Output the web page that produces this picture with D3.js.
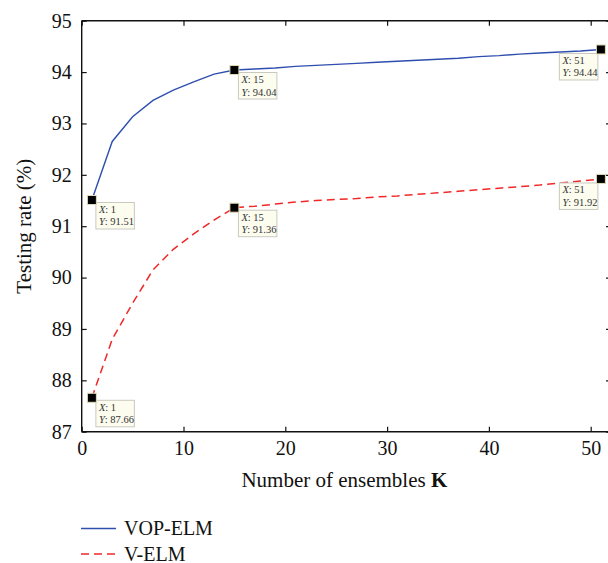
<!DOCTYPE html>
<html>
<head>
<meta charset="utf-8">
<script src="https://cdn.jsdelivr.net/npm/d3@7/dist/d3.min.js"></script>
<style>
  html, body { margin: 0; padding: 0; background: #fff; }
  svg { display: block; }
  text { font-family: "Liberation Serif", "DejaVu Serif", serif; }
</style>
</head>
<body>
<svg id="chart" width="608" height="563"></svg>
<script>
// Number of ensembles K
const ensembles = [1, 3, 5, 7, 9, 11, 13, 15, 17, 19, 21, 23, 25, 27, 29, 31, 33, 35, 37, 39, 41, 43, 45, 47, 49, 51];

// Testing rate (%) for each method
const vopElm = [91.51, 92.65, 93.13, 93.45, 93.65, 93.81, 93.96, 94.04, 94.06, 94.08, 94.11, 94.13, 94.15,
                94.17, 94.19, 94.21, 94.23, 94.25, 94.27, 94.30, 94.32, 94.35, 94.37, 94.39, 94.41, 94.44];
const vElm   = [87.66, 88.80, 89.50, 90.15, 90.55, 90.85, 91.12, 91.36, 91.39, 91.43, 91.47, 91.50, 91.52,
                91.54, 91.57, 91.59, 91.62, 91.65, 91.68, 91.71, 91.74, 91.77, 91.80, 91.84, 91.88, 91.92];

const seriesNames = ["VOP-ELM", "V-ELM"];

// Highlighted data tips
const tipSeries = [0, 0, 0, 1, 1, 1];
const tipK      = [1, 15, 51, 1, 15, 51];
const tipValue  = [91.51, 94.04, 94.44, 87.66, 91.36, 91.92];

const xTicks = [0, 10, 20, 30, 40, 50];
const yTicks = [87, 88, 89, 90, 91, 92, 93, 94, 95];

const svg = d3.select("#chart");
const mLeft = 81.7, mTop = 20.7, mBottom = 431.7;

const x = d3.scaleLinear().domain([0, 52]).range([mLeft, mLeft + 52 * 10.18]);
const y = d3.scaleLinear().domain([87, 95]).range([mBottom, mTop]);
const mRight = x(52);

const colors = ["#2f4fae", "#f02828"];

// Frame with inward ticks on all four sides
const axisColor = "#111";
const gBottom = svg.append("g").attr("transform", `translate(0,${mBottom})`)
  .call(d3.axisBottom(x).tickValues(xTicks).tickSize(-5).tickPadding(9).tickFormat(d3.format("d")));
const gTop = svg.append("g").attr("transform", `translate(0,${mTop})`)
  .call(d3.axisTop(x).tickValues(xTicks).tickSize(-5).tickFormat(""));
const gLeft = svg.append("g").attr("transform", `translate(${mLeft},0)`)
  .call(d3.axisLeft(y).tickValues(yTicks).tickSize(-5).tickPadding(10).tickFormat(d3.format("d")));
const gRight = svg.append("g").attr("transform", `translate(${mRight},0)`)
  .call(d3.axisRight(y).tickValues(yTicks).tickSize(-5).tickFormat(""));

const axes = [gBottom, gTop, gLeft, gRight];
axes.forEach((g, i) => {
  g.select(".domain").attr("stroke", axisColor).attr("stroke-width", 1.4);
  g.selectAll(".tick line").attr("stroke", axisColor).attr("stroke-width", 1.2);
  g.selectAll(".tick text").attr("fill", "#111").style("font-size", "20px")
    .style("font-family", "'Liberation Serif', serif");
  // plain frame edge without the outer tick caps
  const isX = i < 2;
  const r = isX ? x.range() : y.range();
  g.select(".domain").attr("d", isX ? `M${r[0]},0H${r[1]}` : `M0,${r[0]}V${r[1]}`);
});

// Series lines
const line = d3.line().x((d, i) => x(ensembles[i])).y(d => y(d));
const series = [vopElm, vElm];
series.forEach((vals, s) => {
  svg.append("path")
    .datum(vals)
    .attr("d", line)
    .attr("fill", "none")
    .attr("stroke", colors[s])
    .attr("stroke-width", s === 0 ? 1.4 : 1.5)
    .attr("stroke-dasharray", s === 1 ? "8,5" : null);
});

// Data tips
tipK.forEach((k, i) => {
  const cx = x(k), cy = y(tipValue[i]);
  const w = 38.5, h = 26.5;
  const onRight = k < 40;
  const bx = onRight ? cx + 4 : cx - 3 - w;
  const by = onRight ? cy + 2.5 : cy + 4;
  const g = svg.append("g");
  g.append("rect")
    .attr("x", bx).attr("y", by).attr("width", w).attr("height", h)
    .attr("fill", "#fcfcef").attr("stroke", "#c9c9c0").attr("stroke-width", 1);
  const t1 = g.append("text").attr("x", bx + 3).attr("y", by + 10.5)
    .attr("fill", "#333").style("font-size", "10.5px");
  t1.append("tspan").style("font-style", "italic").text("X");
  t1.append("tspan").text(": " + k);
  const t2 = g.append("text").attr("x", bx + 3).attr("y", by + 23)
    .attr("fill", "#333").style("font-size", "10.5px");
  t2.append("tspan").style("font-style", "italic").text("Y");
  t2.append("tspan").text(": " + d3.format(".2f")(tipValue[i]));
  g.append("rect")
    .attr("x", cx - 4.5).attr("y", cy - 4.5).attr("width", 9).attr("height", 9)
    .attr("fill", "#000").attr("stroke", "#e0dcb8").attr("stroke-width", 1);
});

// Axis titles
const xt = svg.append("text")
  .attr("x", (mLeft + 607) / 2).attr("y", 487)
  .attr("text-anchor", "middle").attr("fill", "#111").style("font-size", "21px");
xt.append("tspan").text("Number of ensembles ");
xt.append("tspan").style("font-weight", "bold").text("K");

svg.append("text")
  .attr("transform", `translate(31,${(mTop + mBottom) / 2}) rotate(-90)`)
  .attr("text-anchor", "middle").attr("fill", "#111").style("font-size", "21px")
  .text("Testing rate (%)");

// Legend
const legend = svg.append("g");
seriesNames.forEach((name, i) => {
  const ly = 528.5 + i * 25.5;
  legend.append("line")
    .attr("x1", 81).attr("x2", 116).attr("y1", ly).attr("y2", ly)
    .attr("stroke", colors[i]).attr("stroke-width", i === 0 ? 1.4 : 1.5)
    .attr("stroke-dasharray", i === 1 ? "8,5" : null);
  legend.append("text")
    .attr("x", 124).attr("y", ly + 6.5)
    .attr("fill", "#111").style("font-size", "20px")
    .text(name);
});
</script>
</body>
</html>
